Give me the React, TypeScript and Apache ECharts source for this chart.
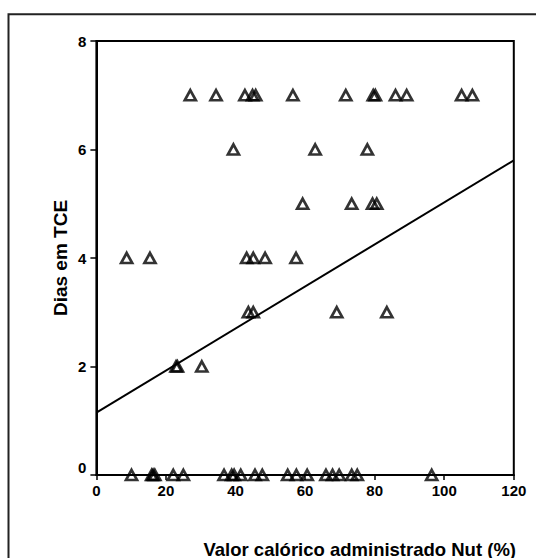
import React, { useEffect, useRef } from "react";
import * as echarts from "echarts";

// Valor calórico administrado Nut (%) per group of Dias em TCE
const xAtDay7 = [27.0, 34.4, 42.7, 44.9, 45.8, 56.5, 71.7, 79.6, 80.2, 86.0, 89.2, 105.0, 108.1];
const xAtDay6 = [39.4, 62.9, 77.9];
const xAtDay5 = [59.3, 73.4, 79.4, 80.6];
const xAtDay4 = [8.7, 15.4, 43.2, 45.1, 48.5, 57.4];
const xAtDay3 = [43.7, 45.1, 69.1, 83.5];
const xAtDay2 = [22.9, 23.3, 30.3];
const xAtDay0 = [10.1, 15.9, 16.3, 16.8, 22.1, 25.0, 36.7, 38.9, 39.6, 41.5, 45.6, 47.7, 55.0, 57.5, 60.6, 66.0, 67.9, 69.8, 73.4, 75.0, 96.4];
const dayGroups = [7, 6, 5, 4, 3, 2, 0];

// regression line end points
const fitX = [0, 120];
const fitY = [1.15, 5.8];

const xTicks = [0, 20, 40, 60, 80, 100, 120];
const yTicks = [0, 2, 4, 6, 8];

const xTitle = "Valor calórico administrado Nut (%)";
const yTitle = "Dias em TCE";

export default function App() {
  const ref = useRef<HTMLDivElement>(null);
  useEffect(() => {
    document.body.style.margin = "0";
    const chart = echarts.init(ref.current!, null, { renderer: "svg" });
    const groups = [xAtDay7, xAtDay6, xAtDay5, xAtDay4, xAtDay3, xAtDay2, xAtDay0];
    const points: number[][] = [];
    groups.forEach((g, i) => g.forEach((x) => points.push([x, dayGroups[i]])));
    const font = "'Liberation Sans', Arial, sans-serif";
    chart.setOption({
      animation: false,
      backgroundColor: "#fff",
      grid: {
        left: 96.4,
        top: 41,
        right: 22.2,
        bottom: 83,
        show: true,
        borderColor: "#000",
        borderWidth: 2,
      },
      xAxis: {
        type: "value",
        min: xTicks[0],
        max: xTicks[xTicks.length - 1],
        interval: 20,
        axisLine: { show: true, onZero: false, lineStyle: { color: "#000", width: 2 } },
        axisTick: { show: true, length: 5, lineStyle: { color: "#000", width: 1.5 } },
        splitLine: { show: false },
        axisLabel: {
          color: "#000",
          fontSize: 15,
          fontWeight: "bold",
          fontFamily: font,
          margin: 8,
        },
      },
      yAxis: {
        type: "value",
        min: yTicks[0],
        max: yTicks[yTicks.length - 1],
        interval: 2,
        axisLine: { show: true, onZero: false, lineStyle: { color: "#000", width: 2 } },
        axisTick: { show: true, length: 6, lineStyle: { color: "#000", width: 1.5 } },
        splitLine: { show: false },
        axisLabel: {
          color: "#000",
          fontSize: 15,
          fontWeight: "bold",
          fontFamily: font,
          margin: 10,
          formatter: (v: number) => (v === 0 ? "{z|0}" : String(v)),
          rich: {
            z: {
              color: "#000",
              fontSize: 15,
              fontWeight: "bold",
              fontFamily: font,
              padding: [0, 0, 16, 0],
            },
          },
        },
      },
      graphic: [
        {
          type: "rect",
          shape: { x: 8.5, y: 14.3, width: 600, height: 600 },
          style: { fill: "none", stroke: "#222", lineWidth: 2 },
          silent: true,
        },
        {
          type: "text",
          x: 516,
          y: 549,
          style: {
            text: xTitle,
            fill: "#000",
            fontSize: 18.5,
            fontWeight: "bold",
            fontFamily: font,
            align: "right",
            verticalAlign: "middle",
          },
        },
        {
          type: "text",
          x: 60,
          y: 258,
          rotation: Math.PI / 2,
          style: {
            text: yTitle,
            fill: "#000",
            fontSize: 19,
            fontWeight: "bold",
            fontFamily: font,
            align: "center",
            verticalAlign: "middle",
          },
        },
      ],
      series: [
        {
          type: "line",
          data: fitX.map((x, i) => [x, fitY[i]]),
          symbol: "none",
          lineStyle: { color: "#000", width: 2 },
          silent: true,
        },
        {
          type: "scatter",
          data: points,
          symbol: "triangle",
          symbolSize: [11, 10],
          clip: false,
          itemStyle: { color: "rgba(255,255,255,0)", borderColor: "#000", borderWidth: 2.7 },
          z: 5,
        },
      ],
    });
    return () => chart.dispose();
  }, []);
  return <div ref={ref} style={{ width: 536, height: 558 }} />;
}
